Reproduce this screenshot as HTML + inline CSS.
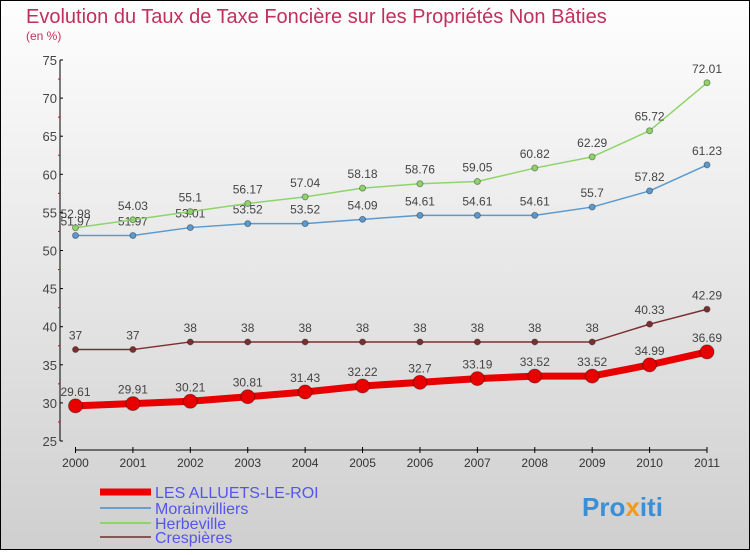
<!DOCTYPE html>
<html><head><meta charset="utf-8"><style>
body{margin:0;width:750px;height:550px;overflow:hidden;font-family:"Liberation Sans",sans-serif}
</style></head><body>
<svg width="750" height="550" xmlns="http://www.w3.org/2000/svg" id="chart">
<defs><linearGradient id="bg" x1="0" y1="0" x2="0" y2="1"><stop offset="0" stop-color="#fefefe"/><stop offset="1" stop-color="#cfcfcf"/></linearGradient></defs>
<rect x="0.5" y="0.5" width="749" height="549" fill="url(#bg)" stroke="#000"/>
<text x="26" y="23" font-size="20" fill="#c0305a">Evolution du Taux de Taxe Foncière sur les Propriétés Non Bâties</text>
<text x="26" y="40" font-size="12" fill="#c0305a">(en %)</text>
<g id="axes"></g><g id="series"></g>
<g font-size="16" fill="#5555ee">
<line x1="100" y1="492" x2="151" y2="492" stroke="#e00" stroke-width="7"/>
<text x="155" y="498">LES ALLUETS-LE-ROI</text>
<line x1="100" y1="508" x2="151" y2="508" stroke="#6a9fcc" stroke-width="2"/>
<text x="155" y="514">Morainvilliers</text>
<line x1="100" y1="523" x2="151" y2="523" stroke="#8fd46a" stroke-width="2"/>
<text x="155" y="529">Herbeville</text>
<line x1="100" y1="537" x2="151" y2="537" stroke="#8a5555" stroke-width="2"/>
<text x="155" y="543">Crespières</text>
</g>
<g font-size="26" font-weight="bold">
<text x="582" y="516"><tspan fill="#3a8fd6">Pro</tspan><tspan fill="#f39a1a">x</tspan><tspan fill="#3a8fd6">iti</tspan></text></g>
</svg>
<script>
const years=["2000","2001","2002","2003","2004","2005","2006","2007","2008","2009","2010","2011"];
const yTicks=[25,30,35,40,45,50,55,60,65,70,75];
const herbeville=[52.98,54.03,55.1,56.17,57.04,58.18,58.76,59.05,60.82,62.29,65.72,72.01];
const morainvilliers=[51.97,51.97,53.01,53.52,53.52,54.09,54.61,54.61,54.61,55.7,57.82,61.23];
const crespieres=[37,37,38,38,38,38,38,38,38,38,40.33,42.29];
const alluets=[29.61,29.91,30.21,30.81,31.43,32.22,32.7,33.19,33.52,33.52,34.99,36.69];
const NS="http://www.w3.org/2000/svg";
const X=i=>75.5+i*(707-75.5)/11;
const Y=v=>441-(v-25)*(381/50);
function mk(t,a,p){const e=document.createElementNS(NS,t);for(const k in a)e.setAttribute(k,a[k]);p.appendChild(e);return e;}
const ax=document.getElementById('axes');
let l=mk('line',{x1:60,y1:Y(75),x2:60,y2:Y(25),stroke:'#000'},ax);


l=mk('line',{x1:X(0),y1:450,x2:X(11),y2:450,stroke:'#000'},ax);


yTicks.forEach((v,i)=>{
 mk('line',{x1:60,y1:Y(v),x2:63,y2:Y(v),stroke:'#000'},ax);
 if(i<yTicks.length-1)mk('line',{x1:58,y1:Y(v+2.5),x2:60,y2:Y(v+2.5),stroke:'#d00'},ax);
 const t=mk('text',{x:57,y:Y(v)+5,'text-anchor':'end','font-size':13,fill:'#444'},ax);
 
 
 t.textContent=v;
});
years.forEach((y,i)=>{
 mk('line',{x1:X(i),y1:447,x2:X(i),y2:453,stroke:'#000'},ax);
 const t=mk('text',{x:X(i),y:467,'text-anchor':'middle','font-size':12,fill:'#333'},ax);
 
 
 t.textContent=y;
});
const sg=document.getElementById('series');
function series(name,data,color,w,r,fs){
 const g=mk('g',{},sg);
 
 
 const p=mk('polyline',{points:data.map((v,i)=>X(i)+','+Y(v)).join(' '),fill:'none',stroke:color,'stroke-width':w,'stroke-linejoin':'round'},g);
 
 
 data.forEach((v,i)=>{
  const c=mk('circle',{cx:X(i),cy:Y(v),r:r,fill:color,stroke:'rgba(0,0,0,0.35)','stroke-width':1},g);
  
  
  const t=mk('text',{x:X(i),y:Y(v)-10,'text-anchor':'middle','font-size':fs,fill:'#444'},g);
  
  
  t.textContent=String(v);
 });
}
series('crespieres',crespieres,'#7a3030',1.5,3,12);
series('morainvilliers',morainvilliers,'#5a9ad0',1.5,3,12);
series('herbeville',herbeville,'#8fd46a',1.5,3,12);
series('les-alluets-le-roi',alluets,'#e80000',7,7,12);
</script>
</body></html>
